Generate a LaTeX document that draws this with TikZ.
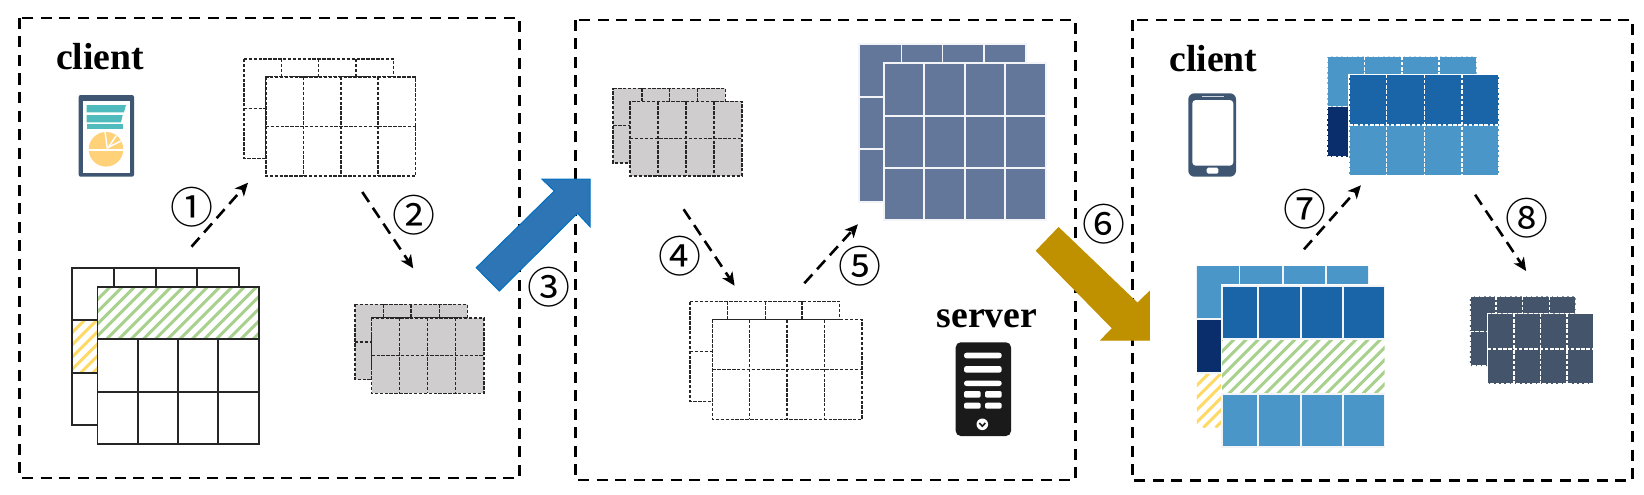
\documentclass[tikz,border=0pt]{standalone}
\usepackage{fontspec}
\setmainfont{Liberation Serif}
\newfontfamily\circledfont{Noto Sans CJK SC}
\usetikzlibrary{arrows.meta}
\definecolor{slateblue}{HTML}{62779A}
\definecolor{paleblue}{HTML}{4A96C8}
\definecolor{midblue}{HTML}{1A64A8}
\definecolor{navyblue}{HTML}{0A2E6B}
\definecolor{darkslate}{HTML}{44546A}
\definecolor{panelgray}{HTML}{CFCDCD}
\definecolor{hatchgreen}{HTML}{A9D18E}
\definecolor{hatchyellow}{HTML}{FFD966}
\definecolor{arrowblue}{HTML}{2E75B6}
\definecolor{arrowedge}{HTML}{0070C0}
\definecolor{arrowgold}{HTML}{BF9000}
\definecolor{iconnavy}{HTML}{3F5673}
\definecolor{iconteal}{HTML}{4FBBBD}
\definecolor{iconamber}{HTML}{FFD27A}
\definecolor{iconblack}{HTML}{1A1A1A}
\tikzset{
  groupframe/.style={draw=black,line width=2.5pt,dash pattern=on 11pt off 7.5pt},
  flowstep/.style={draw=black,line width=2.6pt,dash pattern=on 12pt off 7pt,
    -{Stealth[length=13pt,width=12pt,inset=3.5pt]}},
  bigarrow/.style={line width=1pt,line join=miter},
  solidgrid/.style={draw=black!85,line width=1.9pt},
  dashgrid/.style={draw=black!85,line width=1.5pt,dash pattern=on 3.4pt off 1.5pt},
  whitegrid/.style={draw=white!92!slateblue,line width=1.8pt},
  whitedash/.style={draw=white,line width=1.5pt,dash pattern=on 3.6pt off 1.6pt},
  title/.style={font=\fontsize{37.7}{40}\selectfont\bfseries,anchor=base,inner sep=0pt},
  stepnum/.style={font=\circledfont\fontsize{43}{46}\selectfont,inner sep=0pt},
}
% L-shaped rear sheet of a table:
% style, x0, x1, top, bottom, front-x, front-top, column rules, row rules
\newcommand{\rearsheet}[9]{
  \path[#1] (#2,#4) -- (#3,#4) -- (#3,#7) -- (#6,#7) -- (#6,#5) -- (#2,#5) -- cycle;
  \foreach \xx in {#8} { \path[#1,fill=none] (\xx,#4) -- (\xx,#7); }
  \foreach \yy in {#9} { \path[#1,fill=none] (#2,\yy) -- (#6,\yy); }
}
% Front sheet of a table: style, x0, top, x1, bottom, column rules, row rules
\newcommand{\frontsheet}[7]{
  \path[#1] (#2,#3) rectangle (#4,#5);
  \foreach \xx in {#6} { \path[#1,fill=none] (\xx,#3) -- (\xx,#5); }
  \foreach \yy in {#7} { \path[#1,fill=none] (#2,\yy) -- (#4,\yy); }
}
% Diagonal hatching inside a rectangle: x0, top, x1, bottom, colour
\newcommand{\hatchband}[5]{
  \begin{scope}
    \clip (#1,#2) rectangle (#3,#4);
    \pgfmathsetmacro{\bandh}{#4-#2}
    \pgfmathsetmacro{\bandstart}{#1-\bandh}
    \pgfmathsetmacro{\bandnext}{\bandstart+12.2}
    \foreach \ss in {\bandstart,\bandnext,...,#3} {
      \draw[#5,line width=3pt] (\ss,#4) -- ({\ss+\bandh},#2);
    }
  \end{scope}
}
\begin{document}
\begin{tikzpicture}[x=1pt,y=-1pt]
\useasboundingbox (0,0) rectangle (1644,495);

% Group outlines
\draw[groupframe] (19.6,18) rectangle (519.3,478);
\draw[groupframe] (575.7,20) rectangle (1075.7,480);
\draw[groupframe] (1132.3,20) rectangle (1632.6,480.5);

% Client side, first stage: source table
\path[fill=white] (72.3,268) rectangle (238.6,425);
\hatchband{72.3}{320.3}{97.5}{372.7}{hatchyellow}
\rearsheet{solidgrid}{72.3}{238.6}{268}{425}{97.5}{287.3}{114,155.6,197.3}{320.3,372.7}
\path[fill=white] (97.5,287.3) rectangle (259,444);
\hatchband{97.5}{287.3}{259}{339.3}{hatchgreen}
\frontsheet{solidgrid}{97.5}{287.3}{259}{339.3}{}{}
\frontsheet{solidgrid}{97.5}{339.3}{259}{444}{137.7,178,218.3}{391.7}

% Client side, first stage: empty and grey tables
\rearsheet{dashgrid,fill=white}{243.8}{393.6}{59}{158.3}{265.8}{77}{281.3,318.5,356}{108.3}
\frontsheet{dashgrid,fill=white}{265.8}{77}{415.6}{176}{303.7,340.9,378.1}{126.7}
\rearsheet{dashgrid,fill=panelgray}{355}{467.3}{304.3}{379.7}{371.6}{318}{383.3,411.2,439.4}{342}
\frontsheet{dashgrid,fill=panelgray}{371.6}{318}{483.8}{393.3}{399.6,427.6,455.7}{355.7}

% Server side tables
\rearsheet{dashgrid,fill=panelgray}{613.2}{725.4}{88.3}{163}{630}{101.3}{641.8,669.3,697.5}{125.3}
\frontsheet{dashgrid,fill=panelgray}{630}{101.3}{741.8}{176}{658.2,686,713.9}{138.3}
\rearsheet{whitegrid,fill=slateblue}{858.9}{1025.7}{43.7}{201.7}{883.6}{63}{901.4,942.5,983.6}{96.7,149}
\frontsheet{whitegrid,fill=slateblue}{883.6}{63}{1046}{220.3}{924.3,964.6,1005}{115.7,168}
\rearsheet{dashgrid,fill=white}{690}{839.3}{301.3}{401.3}{712.5}{319.7}{727.5,765.4,802.1}{351.3}
\frontsheet{dashgrid,fill=white}{712.5}{319.7}{862.1}{419.3}{749.6,787.1,824.6}{369.3}

% Client side, last stage: filled source table
\path[fill=paleblue] (1196.8,266) -- (1368.2,266) -- (1368.2,285.7) -- (1222.1,285.7) -- (1222.1,319) -- (1196.8,319) -- cycle;
\path[fill=navyblue] (1196.8,319) rectangle (1222.1,373.3);
\hatchband{1196.8}{373.3}{1222.1}{427.7}{hatchyellow}
\draw[whitegrid] (1239.5,266) -- (1239.5,285.7) (1282.9,266) -- (1282.9,285.7) (1326.2,266) -- (1326.2,285.7);
\draw[whitegrid] (1196.8,319) -- (1222.1,319) (1196.8,373.3) -- (1222.1,373.3);
\path[fill=white] (1220.6,284.2) rectangle (1384.5,447.3);
\path[fill=midblue] (1222.1,285.7) rectangle (1384.5,339.3);
\hatchband{1222.1}{339.3}{1384.5}{394}{hatchgreen}
\path[fill=paleblue] (1222.1,394) rectangle (1384.5,447.3);
\frontsheet{whitegrid}{1222.1}{285.7}{1384.5}{339.3}{1258.2,1300.6,1342.9}{}
\frontsheet{whitegrid}{1222.1}{394}{1384.5}{447.3}{1258.2,1300.6,1342.9}{}

% Client side, last stage: filled upper table
\path[fill=paleblue] (1327.3,56.7) -- (1476.5,56.7) -- (1476.5,74.7) -- (1349.1,74.7) -- (1349.1,106.7) -- (1327.3,106.7) -- cycle;
\path[fill=navyblue] (1327.3,106.7) rectangle (1349.1,157);
\rearsheet{whitedash}{1327.3}{1476.5}{56.7}{157}{1349.1}{74.7}{1364.4,1401.9,1439}{106.7}
\path[fill=midblue] (1349.1,74.7) rectangle (1499,125);
\path[fill=paleblue] (1349.1,125) rectangle (1499,175.3);
\frontsheet{whitedash}{1349.1}{74.7}{1499}{175.3}{1386.6,1424.4,1462.2}{125}

% Client side, last stage: result table
\rearsheet{whitedash,fill=darkslate}{1469.9}{1575.7}{296.3}{366}{1487.6}{313.7}{1496.2,1522.6,1549.3}{331.3}
\frontsheet{whitedash,fill=darkslate}{1487.6}{313.7}{1593.4}{383.7}{1514,1540.7,1567}{349}

% Report icon
\path[fill=iconnavy,rounded corners=2pt] (78.7,95) rectangle (134,176.7);
\path[fill=white] (82.7,101) rectangle (130,172.7);
\path[fill=iconteal] (86.7,105) -- (126,105) -- (124,112.3) -- (86.7,112.3) -- cycle;
\path[fill=iconteal] (86.7,115) -- (122.7,115) -- (121,122.3) -- (86.7,122.3) -- cycle;
\path[fill=iconteal] (86.7,124.3) rectangle (122.7,129);
\path[fill=iconamber] (106,149.3) circle (17.3);
\draw[white,line width=1.4pt] (88,150) -- (124,150);
\draw[white,line width=1.4pt] (107.5,150) -- (105,131.5);
\draw[white,line width=1.4pt] (108,148) -- (116,136);
\draw[white,line width=1.4pt] (108,147.5) -- (121,141);

% Phone icon
\path[fill=iconnavy,rounded corners=6pt] (1188.3,93.3) rectangle (1236,176.7);
\path[fill=white,rounded corners=3.5pt] (1192.3,100) rectangle (1233.3,165.7);
\draw[white!75!iconnavy,line width=1.2pt] (1201.7,96.7) -- (1224.3,96.7);
\path[fill=white,rounded corners=1.5pt] (1206.7,167.7) rectangle (1218.3,173.7);

% Server icon
\path[fill=iconblack,rounded corners=5pt] (955.7,342.3) rectangle (1011,436);
\foreach \ya/\yb in {352.7/358.3,366/372.7,380.7/386} {
  \path[fill=white,rounded corners=2.5pt] (964,\ya) rectangle (1001.7,\yb);
}
\foreach \ya/\yb in {391/397.7,402.7/408.7} {
  \path[fill=white,rounded corners=2pt] (964,\ya) rectangle (980.7,\yb);
  \path[fill=white,rounded corners=2pt] (985,\ya) rectangle (1001.7,\yb);
}
\path[fill=white] (982.3,424.3) circle (5.8);
\draw[iconblack,line width=1.6pt] (979.3,423) -- (982.3,426.2) -- (985.3,423);

% Titles
\node[title] (clientA) at (100,69.3) {client};
\node[title] (server) at (987,327.7) {server};
\node[title] (clientB) at (1213.5,71) {client};

% Transfer arrows between groups
\path[bigarrow,fill=arrowblue,draw=arrowedge]
  (476.2,267.7) -- (554.3,191) -- (541.8,179) -- (590,179) -- (590,226.7)
  -- (577.5,213.3) -- (499.3,291) -- cycle;
\path[bigarrow,fill=arrowgold,draw=arrowgold]
  (1058.6,227.7) -- (1137.5,303.3) -- (1149.3,291.7) -- (1149.3,340) -- (1101,340)
  -- (1112.5,328.3) -- (1036.4,250.7) -- cycle;

% Step connectors
\coordinate (s1a) at (191.5,246.7); \coordinate (s1b) at (248,182.7);
\coordinate (s2a) at (362.3,192);   \coordinate (s2b) at (413.2,268.3);
\coordinate (s4a) at (683.6,209.3); \coordinate (s4b) at (734.6,285.7);
\coordinate (s5a) at (804.3,283.3); \coordinate (s5b) at (857.9,224.3);
\coordinate (s7a) at (1304,249.3);  \coordinate (s7b) at (1360.9,185.3);
\coordinate (s8a) at (1475.1,194.7);\coordinate (s8b) at (1526.1,271);
\draw[flowstep] (s1a) -- (s1b);
\draw[flowstep] (s2a) -- (s2b);
\draw[flowstep] (s4a) -- (s4b);
\draw[flowstep] (s5a) -- (s5b);
\draw[flowstep] (s7a) -- (s7b);
\draw[flowstep] (s8a) -- (s8b);

% Step numbers
\node[stepnum] (n1) at (191.5,207.3) {①};
\node[stepnum] (n2) at (413.9,215) {②};
\node[stepnum] (n3) at (549.4,286.7) {③};
\node[stepnum] (n4) at (680.4,256) {④};
\node[stepnum] (n5) at (859.6,266) {⑤};
\node[stepnum] (n6) at (1104,224) {⑥};
\node[stepnum] (n7) at (1304.7,209) {⑦};
\node[stepnum] (n8) at (1527.1,217.7) {⑧};
\end{tikzpicture}
\end{document}
